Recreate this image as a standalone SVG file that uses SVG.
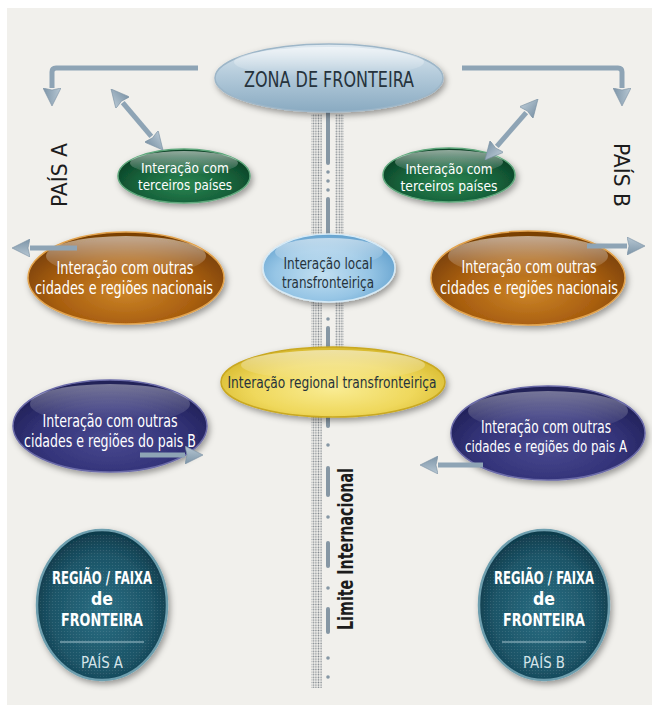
<svg xmlns="http://www.w3.org/2000/svg" width="652" height="707" viewBox="0 0 652 707">
<style>
.t{font-family:'Liberation Sans Narrow','DejaVu Sans Condensed','Liberation Sans',Arial,sans-serif;text-anchor:middle}
.w{fill:#ffffff}
.d{fill:#26333c}
.lbl{font-family:'Liberation Sans Narrow','DejaVu Sans Condensed','Liberation Sans',Arial,sans-serif;text-anchor:middle;fill:#1c1c1c}
.arr{fill:none;stroke:#8ea4b5;stroke-width:5;stroke-linecap:butt}
.bar{fill:#8697a4}
</style>
<defs>
<filter id="sh" x="-20%" y="-20%" width="140%" height="150%">
<feDropShadow dx="2" dy="3" stdDeviation="3" flood-color="#000" flood-opacity="0.38"/>
</filter>
<linearGradient id="gZona" x1="0" y1="0" x2="0" y2="1">
<stop offset="0" stop-color="#dfe9f0"/><stop offset="0.45" stop-color="#b4cbdb"/><stop offset="1" stop-color="#89aac1"/>
</linearGradient>
<radialGradient id="gGreen" cx="50%" cy="65%" r="60%">
<stop offset="0" stop-color="#2b8651"/><stop offset="0.6" stop-color="#16623b"/><stop offset="1" stop-color="#0b4226"/>
</radialGradient>
<radialGradient id="gOrange" cx="50%" cy="65%" r="60%">
<stop offset="0" stop-color="#cc8528"/><stop offset="0.6" stop-color="#a95f10"/><stop offset="1" stop-color="#7a4106"/>
</radialGradient>
<radialGradient id="gLBlue" cx="45%" cy="60%" r="60%">
<stop offset="0" stop-color="#c2dff1"/><stop offset="0.6" stop-color="#96c5e5"/><stop offset="1" stop-color="#66a3cf"/>
</radialGradient>
<radialGradient id="gYellow" cx="50%" cy="60%" r="60%">
<stop offset="0" stop-color="#f9ec93"/><stop offset="0.6" stop-color="#efd85c"/><stop offset="1" stop-color="#d6b82c"/>
</radialGradient>
<radialGradient id="gNavy" cx="50%" cy="65%" r="60%">
<stop offset="0" stop-color="#4a4a90"/><stop offset="0.6" stop-color="#34347a"/><stop offset="1" stop-color="#212158"/>
</radialGradient>
<radialGradient id="gTeal" cx="50%" cy="55%" r="55%">
<stop offset="0" stop-color="#2a6e83"/><stop offset="0.7" stop-color="#1c5467"/><stop offset="1" stop-color="#0f3a4a"/>
</radialGradient>
<linearGradient id="gGloss" x1="0" y1="0" x2="0" y2="1">
<stop offset="0" stop-color="#fff" stop-opacity="0.55"/><stop offset="1" stop-color="#fff" stop-opacity="0"/>
</linearGradient>
<linearGradient id="gHead" x1="0" y1="0" x2="0" y2="1">
<stop offset="0" stop-color="#b7c7d3"/><stop offset="1" stop-color="#7d95a8"/>
</linearGradient>
<pattern id="dots" width="2.6" height="2.6" patternUnits="userSpaceOnUse">
<circle cx="1.3" cy="1.3" r="0.8" fill="#80868c"/>
</pattern>
<pattern id="tdots" width="3" height="3" patternUnits="userSpaceOnUse">
<circle cx="1.5" cy="1.5" r="0.6" fill="#ffffff" fill-opacity="0.12"/>
</pattern>
<marker id="ah" viewBox="0 0 18 18" refX="0" refY="9" markerWidth="18" markerHeight="18" markerUnits="userSpaceOnUse" orient="auto-start-reverse">
<path d="M0,0 L18,9 L0,18 L2,9 z" fill="url(#gHead)" stroke="#7890a3" stroke-width="0.6"/>
</marker>
</defs>

<rect x="0" y="0" width="652" height="707" fill="#ffffff"/>
<rect x="7" y="8" width="645" height="697" fill="#f1f0ec"/>

<g id="border-line">
<rect x="311" y="114" width="11" height="574" fill="url(#dots)"/>
<rect x="335" y="114" width="9" height="234" fill="url(#dots)"/>
<rect class="bar" x="326" y="110" width="4" height="55" rx="2"/>
<circle class="bar" cx="328" cy="172" r="1.8"/>
<circle class="bar" cx="328" cy="181" r="1.8"/>
<circle class="bar" cx="328" cy="190" r="1.8"/>
<rect class="bar" x="326" y="197" width="4" height="42" rx="2"/>
<circle class="bar" cx="328" cy="319" r="1.8"/>
<rect class="bar" x="326" y="326" width="4" height="26" rx="2"/>
<rect class="bar" x="326" y="414" width="4" height="14" rx="2"/>
<circle class="bar" cx="328" cy="445" r="1.8"/>
<rect class="bar" x="326" y="466" width="4" height="31" rx="2"/>
<circle class="bar" cx="328" cy="517" r="1.8"/>
<rect class="bar" x="326" y="541" width="4" height="27" rx="2"/>
<circle class="bar" cx="328" cy="588" r="1.8"/>
<rect class="bar" x="326" y="607" width="4" height="27" rx="2"/>
<circle class="bar" cx="328" cy="658" r="1.8"/>
<circle class="bar" cx="328" cy="677" r="1.8"/>
<text class="lbl" transform="translate(353,549) rotate(-90)" font-size="22" font-weight="bold" textLength="162" lengthAdjust="spacingAndGlyphs">Limite Internacional</text>
</g>

<g id="pais-a-label"><text class="lbl" transform="translate(67,175) rotate(-90)" font-size="22" textLength="64" lengthAdjust="spacingAndGlyphs">PAÍS A</text></g>
<g id="pais-b-label"><text class="lbl" transform="translate(614,175) rotate(90)" font-size="22" textLength="64" lengthAdjust="spacingAndGlyphs">PAÍS B</text></g>

<g id="zona">
<ellipse cx="329" cy="78" rx="114" ry="34" fill="url(#gZona)" stroke="#9db6c8" stroke-width="1.5" filter="url(#sh)"/>
<ellipse cx="329" cy="62" rx="95" ry="15" fill="url(#gGloss)"/>
<text class="t d" x="329" y="87" font-size="21" textLength="170" lengthAdjust="spacingAndGlyphs">ZONA DE FRONTEIRA</text>
</g>

<g id="terceiros-a">
<ellipse cx="184" cy="176" rx="66" ry="27" fill="url(#gGreen)" stroke="#5ea77b" stroke-width="1.5" filter="url(#sh)"/>
<ellipse cx="184" cy="163" rx="54" ry="12" fill="url(#gGloss)"/>
<text class="t w" x="185" y="173" font-size="14" textLength="88" lengthAdjust="spacingAndGlyphs">Interação com</text>
<text class="t w" x="185" y="190" font-size="14" textLength="94" lengthAdjust="spacingAndGlyphs">terceiros países</text>
</g>

<g id="terceiros-b">
<ellipse cx="449" cy="175" rx="66" ry="27" fill="url(#gGreen)" stroke="#5ea77b" stroke-width="1.5" filter="url(#sh)"/>
<ellipse cx="449" cy="162" rx="54" ry="12" fill="url(#gGloss)"/>
<text class="t w" x="449" y="174" font-size="14" textLength="87" lengthAdjust="spacingAndGlyphs">Interação com</text>
<text class="t w" x="449" y="191" font-size="14" textLength="97" lengthAdjust="spacingAndGlyphs">terceiros países</text>
</g>

<g id="nacionais-a">
<ellipse cx="126" cy="278" rx="98" ry="46" fill="url(#gOrange)" stroke="#e2a24c" stroke-width="1.5" filter="url(#sh)"/>
<ellipse cx="126" cy="256" rx="80" ry="20" fill="url(#gGloss)"/>
<text class="t w" x="125" y="274" font-size="17" textLength="137" lengthAdjust="spacingAndGlyphs">Interação com outras</text>
<text class="t w" x="124" y="294" font-size="17" textLength="178" lengthAdjust="spacingAndGlyphs">cidades e regiões nacionais</text>
</g>

<g id="nacionais-b">
<ellipse cx="528" cy="278" rx="97" ry="47" fill="url(#gOrange)" stroke="#e2a24c" stroke-width="1.5" filter="url(#sh)"/>
<ellipse cx="528" cy="256" rx="80" ry="20" fill="url(#gGloss)"/>
<text class="t w" x="529" y="273" font-size="17" textLength="135" lengthAdjust="spacingAndGlyphs">Interação com outras</text>
<text class="t w" x="529" y="294" font-size="17" textLength="178" lengthAdjust="spacingAndGlyphs">cidades e regiões nacionais</text>
</g>

<g id="local">
<ellipse cx="329" cy="268" rx="66" ry="34" fill="url(#gLBlue)" stroke="#d6eaf6" stroke-width="1.5" filter="url(#sh)"/>
<ellipse cx="329" cy="252" rx="54" ry="14" fill="url(#gGloss)"/>
<text class="t d" x="328" y="269" font-size="15" textLength="89" lengthAdjust="spacingAndGlyphs">Interação local</text>
<text class="t d" x="328" y="288" font-size="15" textLength="92" lengthAdjust="spacingAndGlyphs">transfronteiriça</text>
</g>

<g id="regional">
<ellipse cx="333" cy="382" rx="112" ry="35" fill="url(#gYellow)" stroke="#c9a820" stroke-width="1.5" filter="url(#sh)"/>
<ellipse cx="333" cy="365" rx="92" ry="15" fill="url(#gGloss)"/>
<text class="t d" x="332" y="388" font-size="16" textLength="209" lengthAdjust="spacingAndGlyphs">Interação regional transfronteiriça</text>
</g>

<g id="pais-b-regioes">
<ellipse cx="110" cy="426" rx="97" ry="46" fill="url(#gNavy)" stroke="#6a6aa8" stroke-width="1.5" filter="url(#sh)"/>
<ellipse cx="110" cy="404" rx="80" ry="20" fill="url(#gGloss)" opacity="0.7"/>
<text class="t w" x="110" y="427" font-size="17" textLength="135" lengthAdjust="spacingAndGlyphs">Interação com outras</text>
<text class="t w" x="110" y="447" font-size="17" textLength="172" lengthAdjust="spacingAndGlyphs">cidades e regiões do pais B</text>
</g>

<g id="pais-a-regioes">
<ellipse cx="548" cy="433" rx="97" ry="47" fill="url(#gNavy)" stroke="#6a6aa8" stroke-width="1.5" filter="url(#sh)"/>
<ellipse cx="548" cy="411" rx="80" ry="20" fill="url(#gGloss)" opacity="0.7"/>
<text class="t w" x="546" y="433" font-size="17" textLength="130" lengthAdjust="spacingAndGlyphs">Interação com outras</text>
<text class="t w" x="546" y="452" font-size="16" textLength="162" lengthAdjust="spacingAndGlyphs">cidades e regiões do pais A</text>
</g>

<g id="faixa-a">
<ellipse cx="102" cy="605" rx="65" ry="75" fill="url(#gTeal)" stroke="#6d9eae" stroke-width="2.5" filter="url(#sh)"/>
<ellipse cx="102" cy="605" rx="62" ry="72" fill="url(#tdots)"/>
<text class="t w" x="102" y="584" font-size="18" font-weight="bold" textLength="100" lengthAdjust="spacingAndGlyphs">REGIÃO / FAIXA</text>
<text class="t w" x="102" y="605" font-size="18" font-weight="bold" textLength="22" lengthAdjust="spacingAndGlyphs">de</text>
<text class="t w" x="102" y="626" font-size="18" font-weight="bold" textLength="82" lengthAdjust="spacingAndGlyphs">FRONTEIRA</text>
<line x1="60" y1="642" x2="144" y2="642" stroke="#a8c6d0" stroke-width="1.2"/>
<text class="t" x="102" y="668" font-size="16" fill="#d6e4e9" textLength="42" lengthAdjust="spacingAndGlyphs">PAÍS A</text>
</g>

<g id="faixa-b">
<ellipse cx="544" cy="605" rx="65" ry="75" fill="url(#gTeal)" stroke="#6d9eae" stroke-width="2.5" filter="url(#sh)"/>
<ellipse cx="544" cy="605" rx="62" ry="72" fill="url(#tdots)"/>
<text class="t w" x="544" y="584" font-size="18" font-weight="bold" textLength="100" lengthAdjust="spacingAndGlyphs">REGIÃO / FAIXA</text>
<text class="t w" x="544" y="605" font-size="18" font-weight="bold" textLength="22" lengthAdjust="spacingAndGlyphs">de</text>
<text class="t w" x="544" y="626" font-size="18" font-weight="bold" textLength="82" lengthAdjust="spacingAndGlyphs">FRONTEIRA</text>
<line x1="502" y1="642" x2="586" y2="642" stroke="#a8c6d0" stroke-width="1.2"/>
<text class="t" x="544" y="668" font-size="16" fill="#d6e4e9" textLength="42" lengthAdjust="spacingAndGlyphs">PAÍS B</text>
</g>

<g id="connectors">
<path class="arr" d="M198,68 H56 Q52,68 52,72 V88" marker-end="url(#ah)"/>
<path class="arr" d="M462,68 H618 Q622,68 622,72 V88" marker-end="url(#ah)"/>
<path class="arr" d="M122.7,102.7 L151.3,136.3" marker-start="url(#ah)" marker-end="url(#ah)"/>
<path class="arr" d="M526.2,112.6 L496.8,146.4" marker-start="url(#ah)" marker-end="url(#ah)"/>
<path class="arr" d="M77,248 H30" marker-end="url(#ah)"/>
<path class="arr" d="M587,246 H627" marker-end="url(#ah)"/>
<path class="arr" d="M140,455 H185" marker-end="url(#ah)"/>
<path class="arr" d="M483,465 H438" marker-end="url(#ah)"/>
</g>
</svg>
